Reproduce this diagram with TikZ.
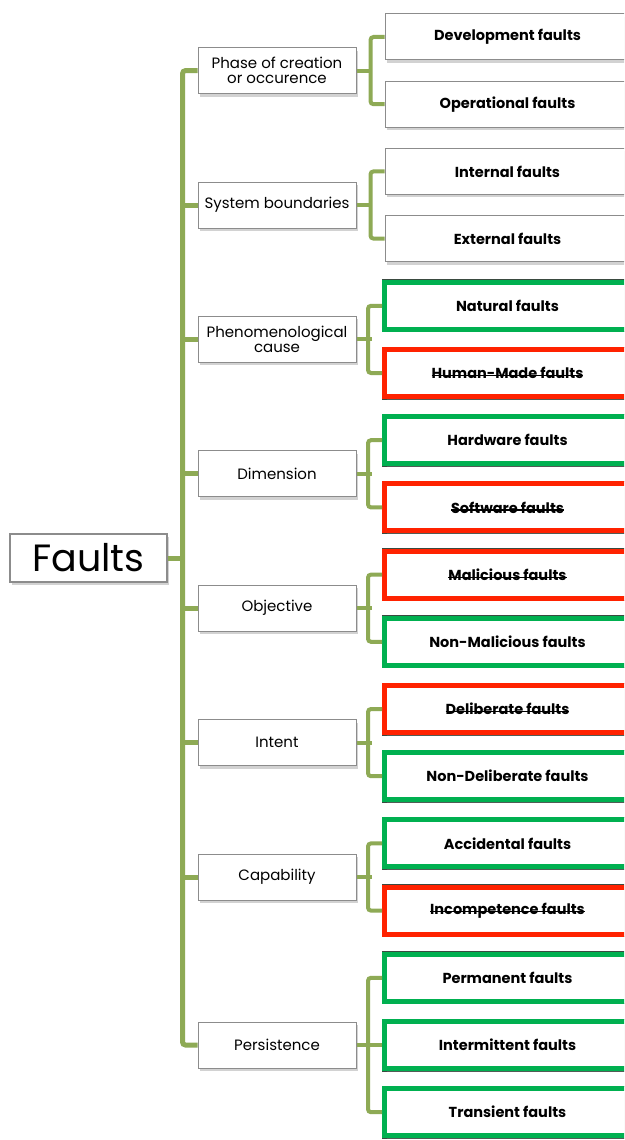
\documentclass[tikz,border=0pt]{standalone}
\usepackage{fontspec}
\setmainfont{Poppins}
\usetikzlibrary{shadows}

\definecolor{branch}{HTML}{8EAA55}
\definecolor{okgreen}{HTML}{00B050}
\definecolor{badred}{HTML}{FF2200}
\definecolor{boxgray}{HTML}{8C8C8C}
\definecolor{edgedark}{HTML}{3A4A40}

% struck-through text
\newsavebox{\strikebox}
\newcommand{\struck}[1]{\sbox{\strikebox}{#1}\rlap{\usebox{\strikebox}}\rule[0.28ex]{\wd\strikebox}{1.5pt}}

\tikzset{
  boxshadow/.style={drop shadow={opacity=0.35, shadow xshift=2pt, shadow yshift=-3pt}},
  rootbox/.style={draw=boxgray, line width=1.2pt, fill=white, boxshadow,
    minimum width=157pt, minimum height=48pt, inner sep=0pt,
    font=\fontsize{38}{40}\selectfont},
  catbox/.style={draw=boxgray, line width=1pt, fill=white, boxshadow,
    minimum width=158pt, minimum height=46pt, inner sep=0pt, align=center,
    font=\fontsize{15}{15}\selectfont},
  leafbox/.style={draw=boxgray, line width=1pt, fill=white, boxshadow,
    minimum width=245pt, minimum height=46pt, inner sep=0pt,
    font=\bfseries\fontsize{14.5}{15}\selectfont},
  framed/.style={leafbox, line width=5pt, minimum width=246pt, minimum height=47pt,
    append after command={\pgfextra{\draw[edgedark, line width=0.8pt]
      (\tikzlastnode.north west) rectangle (\tikzlastnode.south east);}}},
  keep/.style={framed, draw=okgreen},
  reject/.style={framed, draw=badred},
  link/.style={draw=branch, line width=4pt, rounded corners=3pt},
  trunk/.style={link, line width=5pt},
}

\begin{document}
\begin{tikzpicture}[x=1pt, y=-1pt]
  \path[use as bounding box, fill=white] (0,0) rectangle (624,1140);
  \clip (0,0) rectangle (624,1140);

  % root
  \node[rootbox] (root) at (88.5,558) {Faults};

  % categories
  \node[catbox] (c1) at (277,70.6)  {Phase of creation\\or occurence};
  \node[catbox] (c2) at (277,205)   {System boundaries};
  \node[catbox] (c3) at (277,339.4) {Phenomenological\\cause};
  \node[catbox] (c4) at (277,473.8) {Dimension};
  \node[catbox] (c5) at (277,608.2) {Objective};
  \node[catbox] (c6) at (277,742.6) {Intent};
  \node[catbox] (c7) at (277,877)   {Capability};
  \node[catbox] (c8) at (277,1045)  {Persistence};

  % leaves
  \node[leafbox] (l1)  at (507.5,37)    {Development faults};
  \node[leafbox] (l2)  at (507.5,104.2) {Operational faults};
  \node[leafbox] (l3)  at (507.5,171.4) {Internal faults};
  \node[leafbox] (l4)  at (507.5,238.6) {External faults};
  \node[keep]    (l5)  at (507.5,305.8) {Natural faults};
  \node[reject]  (l6)  at (507.5,373)   {\struck{Human-Made faults}};
  \node[keep]    (l7)  at (507.5,440.2) {Hardware faults};
  \node[reject]  (l8)  at (507.5,507.4) {\struck{Software faults}};
  \node[reject]  (l9)  at (507.5,574.6) {\struck{Malicious faults}};
  \node[keep]    (l10) at (507.5,641.8) {Non-Malicious faults};
  \node[reject]  (l11) at (507.5,709)   {\struck{Deliberate faults}};
  \node[keep]    (l12) at (507.5,776.2) {Non-Deliberate faults};
  \node[keep]    (l13) at (507.5,843.4) {Accidental faults};
  \node[reject]  (l14) at (507.5,910.6) {\struck{Incompetence faults}};
  \node[keep]    (l15) at (507.5,977.8) {Permanent faults};
  \node[keep]    (l16) at (507.5,1045)  {Intermittent faults};
  \node[keep]    (l17) at (507.5,1112.2){Transient faults};

  % trunk from root to categories
  \coordinate (tk) at (182.5,0);
  \draw[trunk] (c1.west) -- (tk |- c1.west) -- (tk |- c8.west) -- (c8.west);
  \foreach \c in {c2,c3,c4,c5,c6,c7}
    \draw[trunk] (tk |- \c.west) -- (\c.west);
  \draw[trunk] (root.east) -- (tk |- root.east);

  % categories to leaves
  \foreach \c/\a/\b in {c1/l1/l2, c2/l3/l4, c3/l5/l6, c4/l7/l8, c5/l9/l10, c6/l11/l12, c7/l13/l14, c8/l15/l17} {
    \draw[link] (\a.west) -- ++(-14pt,0) |- (\b.west);
    \draw[link] (\c.east) -- ++(15pt,0);
  }
  \draw[link] (l16.west) -- ++(-14pt,0);
\end{tikzpicture}
\end{document}
